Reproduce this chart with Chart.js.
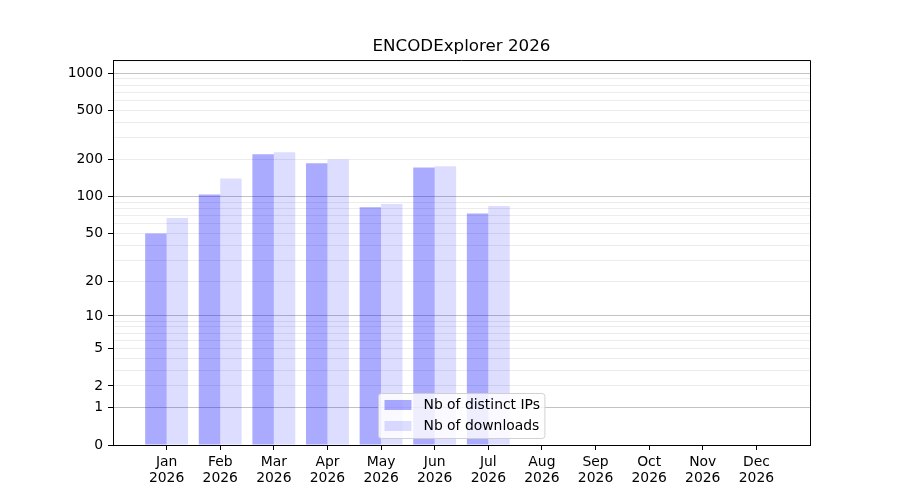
<!DOCTYPE html>
<html lang="en">
<head>
<meta charset="UTF-8">
<title>ENCODExplorer 2026</title>
<script src="https://cdn.jsdelivr.net/npm/chart.js@4"></script>
<style>
    html, body {
        margin: 0;
        padding: 0;
        background: #fff;
    }
    #chart {
        display: block;
    }
</style>
</head>
<body>

<canvas id="chart" width="900" height="500"></canvas>

<script>
    // Data
    const months = ['Jan', 'Feb', 'Mar', 'Apr', 'May', 'Jun', 'Jul', 'Aug', 'Sep', 'Oct', 'Nov', 'Dec'];
    const year = '2026';
    const distinctIPs = [50, 104, 221, 187, 82, 173, 73, 0, 0, 0, 0, 0];
    const downloads   = [67, 141, 230, 201, 87, 177, 84, 0, 0, 0, 0, 0];

    // y axis: log10(v + 1)
    const yTicks  = [0, 1, 2, 3, 4, 5, 6, 7, 8, 9, 10, 20, 30, 40, 50, 60, 70, 80, 90,
                     100, 200, 300, 400, 500, 600, 700, 800, 900, 1000];
    const yLabels = [0, 1, 2, 5, 10, 20, 50, 100, 200, 500, 1000];
    const yMajor  = [1, 10, 100, 1000];
    const yMax = 1280;

    const f = v => Math.log10(v + 1);

    // empty slot on each side, like the date axis of the original
    const xLabels = [''].concat(months.map(m => [m, year]), ['']);
    const pad = arr => [null].concat(arr.map(f), [null]);

    Chart.defaults.font.family = '"DejaVu Sans", sans-serif';
    Chart.defaults.color = '#000';

    // frame around the plot area
    const frame = {
        id: 'frame',
        afterDraw(chart) {
            const { ctx, chartArea: a } = chart;
            ctx.save();
            ctx.strokeStyle = '#000';
            ctx.lineWidth = 1;
            ctx.beginPath();
            ctx.moveTo(a.left, a.top + 0.5);
            ctx.lineTo(a.right + 0.5, a.top + 0.5);
            ctx.lineTo(a.right + 0.5, a.bottom);
            ctx.stroke();
            ctx.restore();
        }
    };

    // legend inside the plot, lower center
    const legendBox = {
        id: 'legendBox',
        afterDraw(chart) {
            const { ctx, chartArea: a } = chart;
            const sets = chart.data.datasets;
            ctx.save();
            ctx.font = '13.9px "DejaVu Sans", sans-serif';
            const tw = Math.max(...sets.map(d => ctx.measureText(d.label).width));
            const padX = 6, sw = 27, sh = 10, gap = 12, rowH = 21;
            const w = padX + sw + gap + tw + 5;
            const h = 45;
            const x = Math.round((a.left + a.right) / 2 - w / 2) + 0.5;
            const y = Math.round(a.bottom - 7 - h) + 0.5;

            ctx.beginPath();
            ctx.roundRect(x, y, w, h, 3);
            ctx.fillStyle = 'rgba(255,255,255,0.8)';
            ctx.fill();
            ctx.strokeStyle = 'rgba(204,204,204,0.9)';
            ctx.lineWidth = 1;
            ctx.stroke();

            ctx.textBaseline = 'middle';
            sets.forEach((d, i) => {
                const cy = y + 11.5 + i * rowH;
                ctx.fillStyle = d.backgroundColor;
                ctx.fillRect(x + padX, cy - sh / 2, sw, sh);
                ctx.fillStyle = '#000';
                ctx.fillText(d.label, x + padX + sw + gap, cy);
            });
            ctx.restore();
        }
    };

    const ctx = document.getElementById('chart').getContext('2d');
    new Chart(ctx, {
        type: 'bar',
        data: {
            labels: xLabels,
            datasets: [{
                label: 'Nb of distinct IPs',
                data: pad(distinctIPs),
                backgroundColor: 'rgba(0,0,255,0.333)',
                categoryPercentage: 0.8,
                barPercentage: 1.0
            }, {
                label: 'Nb of downloads',
                data: pad(downloads),
                backgroundColor: 'rgba(0,0,255,0.133)',
                categoryPercentage: 0.8,
                barPercentage: 1.0
            }]
        },
        options: {
            responsive: false,
            animation: false,
            events: [],
            layout: { padding: { left: 0, right: 90, top: 0, bottom: 0 } },
            plugins: {
                legend: { display: false },
                tooltip: { enabled: false },
                title: {
                    display: true,
                    fullSize: false,
                    text: 'ENCODExplorer 2026',
                    color: '#000',
                    font: { size: 16.7, weight: 'normal', lineHeight: 1.2 },
                    padding: { top: 37, bottom: 3 }
                }
            },
            scales: {
                x: {
                    type: 'category',
                    offset: false,
                    afterFit: s => { s.height = 55; },
                    grid: {
                        offset: false,
                        drawOnChartArea: false,
                        tickLength: 5,
                        tickColor: c => (c.index === 0 || c.index === xLabels.length - 1) ? 'rgba(0,0,0,0)' : '#000'
                    },
                    border: { color: '#000', width: 1 },
                    ticks: {
                        autoSkip: false,
                        maxRotation: 0,
                        padding: 5,
                        font: { size: 13.9, lineHeight: 1.12 }
                    }
                },
                y: {
                    type: 'linear',
                    min: 0,
                    max: f(yMax),
                    afterBuildTicks: s => { s.ticks = yTicks.map(v => ({ value: f(v) })); },
                    afterFit: s => { s.width = 113; },
                    grid: {
                        lineWidth: 1,
                        tickLength: 5,
                        color: c => yMajor.includes(yTicks[c.index]) ? '#c2c2c2' : '#ececec',
                        tickColor: c => yLabels.includes(yTicks[c.index]) ? '#000' : 'rgba(0,0,0,0)'
                    },
                    border: { color: '#000', width: 1 },
                    ticks: {
                        autoSkip: false,
                        padding: 5,
                        font: { size: 13.9 },
                        callback: (val, i) => yLabels.includes(yTicks[i]) ? String(yTicks[i]) : ''
                    }
                }
            }
        },
        plugins: [frame, legendBox]
    });
</script>

</body>
</html>
